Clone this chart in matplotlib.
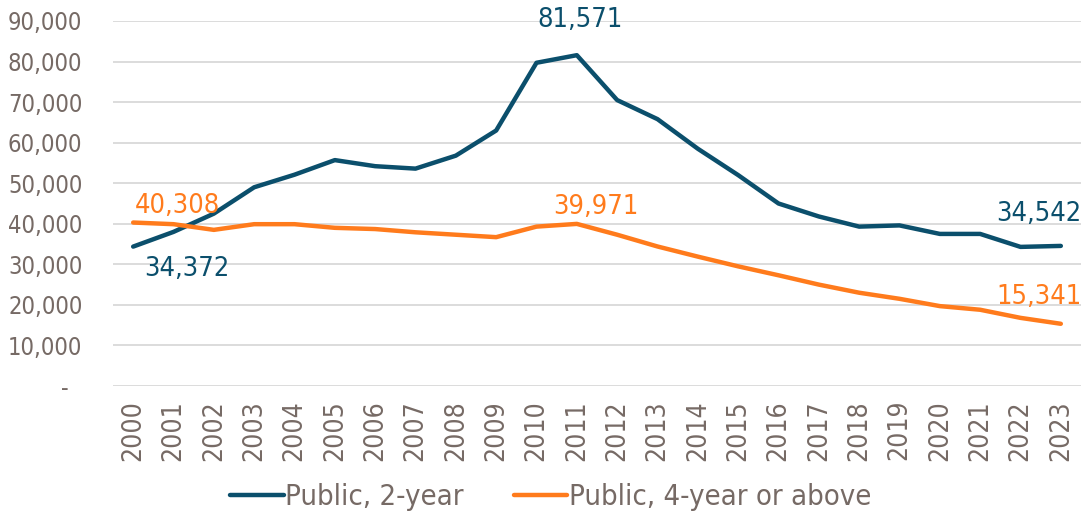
import matplotlib.pyplot as plt
import numpy as np

# data
years = list(range(2000, 2024))
two_year = [34372, 38000, 42500, 49000, 52100, 55700, 54200, 53600, 56800, 63000,
            79700, 81571, 70500, 65800, 58500, 52000, 45000, 41800, 39300, 39600,
            37500, 37500, 34300, 34542]
four_year = [40308, 39900, 38500, 39900, 39900, 39000, 38700, 37900, 37300, 36700,
             39300, 39971, 37300, 34400, 31900, 29500, 27300, 25000, 23000, 21500,
             19700, 18800, 16800, 15341]
y_ticks = list(range(0, 90001, 10000))
y_labels = ['-  '] + [f'{v:,}' for v in y_ticks[1:]]

# style
blue = '#0b4f6c'
orange = '#ff7b1c'
txt = '#766a65'
grid = '#d9d9d9'

plt.rcParams['font.family'] = ['DejaVu Sans']
plt.rcParams['font.stretch'] = 'condensed'
fig = plt.figure(figsize=(10.84, 5.15), dpi=100)
ax = fig.add_axes([113/1084, 1 - 386/515, (1081 - 113)/1084, (386 - 21)/515])

ax.plot(years, two_year, color=blue, lw=3.2, solid_capstyle='round', label='Public, 2-year')
ax.plot(years, four_year, color=orange, lw=3.2, solid_capstyle='round', label='Public, 4-year or above')

ax.set_xlim(1999.5, 2023.5)
ax.set_ylim(0, 90000)
ax.set_yticks(y_ticks)
ax.set_yticklabels(y_labels)
ax.set_xticks(years)
ax.set_xticklabels([str(y) for y in years], rotation=90)
ax.tick_params(length=0, labelcolor=txt)
ax.tick_params(axis='y', pad=22, labelsize=17)
ax.tick_params(axis='x', pad=10, labelsize=19)
ax.grid(axis='y', color=grid, lw=1.3)
ax.set_axisbelow(True)
for s in ax.spines.values():
    s.set_visible(False)

def label(i, series, color, dx, dy):
    ax.annotate(f'{series[i]:,}', (years[i], series[i]), xytext=(dx, dy),
                textcoords='offset points', ha='center', va='center',
                fontsize=19.5, color=color)

label(0, two_year, blue, 39, -16)
label(0, four_year, orange, 32, 12)
label(11, two_year, blue, 2, 25)
label(11, four_year, orange, 14, 12)
label(23, two_year, blue, -16, 23)
label(23, four_year, orange, -16, 19)

leg = fig.legend(loc='center', bbox_to_anchor=(0.508, 1 - 497/515), ncol=2, frameon=False,
                 fontsize=21, handlelength=1.85, handletextpad=0.05, columnspacing=1.7)
for t in leg.get_texts():
    t.set_color(txt)

fig.savefig('out.png', dpi=100)
